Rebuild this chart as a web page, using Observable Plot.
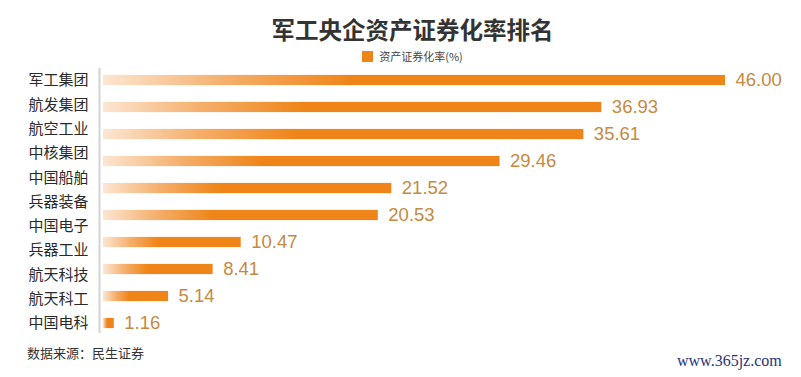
<!DOCTYPE html>
<html>
<head>
<meta charset="utf-8">
<script src="https://cdn.jsdelivr.net/npm/d3@7"></script>
<script src="https://cdn.jsdelivr.net/npm/@observablehq/plot@0.6"></script>
<style>
  html, body { margin: 0; padding: 0; background: #fff; }
  #wrap { width: 801px; height: 377px; position: relative; overflow: hidden; font-family: "Noto Sans CJK SC", sans-serif; }
  #title { height: 38px; padding-top: 10px; line-height: 38px; font-size: 23.5px; font-weight: bold; color: #333; text-align: center; padding-left: 24px; box-sizing: content-box; }
  #legend { height: 16px; line-height: 16px; font-size: 11px; color: #444; text-align: center; padding-left: 24px; }
  #legend .sw { display: inline-block; width: 11px; height: 11px; background: #ef8519; vertical-align: -1px; margin-right: 6px; }
  #chart svg { display: block; }
  #caption { position: relative; height: 20px; line-height: 18px; font-size: 13px; color: #333; padding-left: 27px; font-family: "DejaVu Serif", "Noto Sans CJK SC", serif; }
  #wm { position: absolute; left: 677px; top: 7px; font-family: "Liberation Serif", serif; font-size: 16px; color: #25357a; }
</style>
</head>
<body>
<div id="wrap">
  <div id="title">军工央企资产证券化率排名</div>
  <div id="legend"><span class="sw"></span>资产证券化率(%)</div>
  <div id="chart"></div>
  <div id="caption">数据来源：民生证券<span id="wm">www.365jz.com</span></div>
</div>
<script>
// Category labels (as printed on the left, 11 labels)
const categories = ["军工集团", "航发集团", "航空工业", "中核集团", "中国船舶", "兵器装备", "中国电子", "兵器工业", "航天科技", "航天科工", "中国电科"];
// Bar values (10 bars as drawn)
const values = [46.00, 36.93, 35.61, 29.46, 21.52, 20.53, 10.47, 8.41, 5.14, 1.16];

const labelRows = categories.map((name, i) => ({ name, pos: i / (categories.length - 1) }));
const barRows = values.map((value, i) => ({ value, pos: i / (values.length - 1) }));
const half = 0.021;

const chart = Plot.plot({
  width: 801,
  height: 281,
  marginLeft: 98,
  marginRight: 21.5,
  marginTop: 4,
  marginBottom: 12,
  x: { domain: [0, 50], axis: null },
  y: { type: "linear", domain: [0, 1], range: [16, 259], axis: null },
  marks: [
    Plot.ruleX([0], { dx: 1, stroke: "#d4d4d4", strokeWidth: 2 }),
    Plot.rect(barRows, {
      x1: 0, x2: "value",
      y1: d => d.pos - half, y2: d => d.pos + half,
      insetLeft: 5,
      fill: "url(#barGrad)"
    }),
    Plot.text(barRows, {
      x: "value", y: "pos", text: d => d.value.toFixed(2),
      dx: 10, textAnchor: "start", fill: "#c58a3f",
      fontSize: 18.5, fontFamily: "Liberation Sans, Arial, sans-serif"
    }),
    Plot.text(labelRows, {
      y: "pos", text: "name", frameAnchor: "left", textAnchor: "end",
      dx: -10, fill: "#2a2a2a", fontSize: 15,
      fontFamily: "Noto Sans CJK SC, sans-serif"
    })
  ]
});

const defs = d3.select(chart).insert("defs", ":first-child");
const g = defs.append("linearGradient").attr("id", "barGrad")
  .attr("x1", 0).attr("x2", 1).attr("y1", 0).attr("y2", 0);
g.append("stop").attr("offset", "0").attr("stop-color", "#fce6d2");
g.append("stop").attr("offset", "0.2").attr("stop-color", "#f5ae6a");
g.append("stop").attr("offset", "0.4").attr("stop-color", "#ef8519");
g.append("stop").attr("offset", "1").attr("stop-color", "#ef8519");

document.getElementById("chart").appendChild(chart);
</script>
</body>
</html>
